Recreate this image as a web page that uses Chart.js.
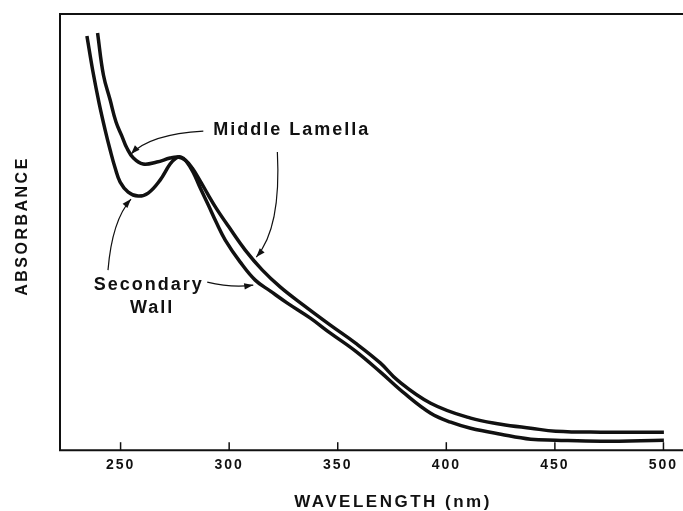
<!DOCTYPE html>
<html>
<head>
<meta charset="utf-8">
<script src="https://cdn.jsdelivr.net/npm/chart.js@4.4.1/dist/chart.umd.min.js"></script>
<style>
  html, body { margin: 0; padding: 0; background: #fff; }
  #wrap { width: 683px; height: 511px; }
</style>
</head>
<body>
<div id="wrap"><canvas id="myChart" width="683" height="511"></canvas></div>
<script>
// wavelength tick labels (nm)
var tickValues = [250, 300, 350, 400, 450, 500];

// Secondary Wall curve (absorbance in arbitrary units)
var secondaryWavelength = [234.5, 237.3, 240.1, 242.9, 245.2, 247.5, 249.8, 253.5, 258.1, 262.7,
  268.2, 272.8, 275.6, 277.9, 280.2, 283.4, 286.7, 290.4, 294.0, 298.2,
  305.1, 312.0, 319.0, 326.8, 337.4, 346.6, 358.2, 369.7, 381.2, 392.8,
  402.0, 411.2, 425.1, 438.9, 450.4, 471.2, 500.2];
var secondaryAbsorbance = [4.14, 3.78, 3.47, 3.20, 3.00, 2.82, 2.68, 2.58, 2.54, 2.57,
  2.70, 2.86, 2.92, 2.93, 2.89, 2.78, 2.62, 2.45, 2.28, 2.10,
  1.88, 1.70, 1.59, 1.47, 1.32, 1.17, 0.99, 0.78, 0.56, 0.37,
  0.28, 0.22, 0.16, 0.11, 0.10, 0.09, 0.10];

// Middle Lamella curve
var lamellaWavelength = [239.4, 242.1, 245.2, 247.9, 250.6, 252.9, 255.9, 260.4, 266.7, 272.8,
  276.5, 279.8, 283.0, 286.7, 290.4, 294.0, 299.6, 307.4, 315.3, 323.6,
  334.2, 346.6, 358.2, 369.7, 377.5, 392.8, 411.2, 425.1, 438.9, 450.4,
  471.2, 500.2];
var lamellaAbsorbance = [4.17, 3.75, 3.50, 3.28, 3.14, 3.02, 2.92, 2.86, 2.88, 2.92,
  2.93, 2.90, 2.82, 2.69, 2.55, 2.42, 2.24, 2.00, 1.80, 1.63,
  1.45, 1.25, 1.07, 0.87, 0.70, 0.47, 0.32, 0.26, 0.22, 0.19,
  0.18, 0.18];

var FONT = '"Liberation Sans", Arial, Helvetica, sans-serif';
var INK = '#111';

function toPoints(xs, ys) {
  return xs.map(function (x, i) { return { x: x, y: ys[i] }; });
}

function arrow(ctx, p0, c, p1) {
  ctx.beginPath();
  ctx.moveTo(p0[0], p0[1]);
  ctx.quadraticCurveTo(c[0], c[1], p1[0], p1[1]);
  ctx.stroke();
  var a = Math.atan2(p1[1] - c[1], p1[0] - c[0]);
  var len = 9, w = 3.2;
  ctx.beginPath();
  ctx.moveTo(p1[0], p1[1]);
  ctx.lineTo(p1[0] - len * Math.cos(a) + w * Math.sin(a), p1[1] - len * Math.sin(a) - w * Math.cos(a));
  ctx.lineTo(p1[0] - len * Math.cos(a) - w * Math.sin(a), p1[1] - len * Math.sin(a) + w * Math.cos(a));
  ctx.closePath();
  ctx.fill();
}

var decor = {
  id: 'decor',
  beforeDraw: function (chart) {
    chart.ctx.letterSpacing = '2px';
  },
  afterDraw: function (chart) {
    var ctx = chart.ctx, a = chart.chartArea;
    var xs = chart.scales.x, ys = chart.scales.y;
    function P(l, v) { return [xs.getPixelForValue(l), ys.getPixelForValue(v)]; }

    ctx.save();
    ctx.strokeStyle = INK;
    ctx.fillStyle = INK;
    // frame
    ctx.lineWidth = 2;
    ctx.beginPath();
    ctx.moveTo(a.right, a.top);
    ctx.lineTo(a.left, a.top);
    ctx.lineTo(a.left, a.bottom);
    ctx.lineTo(a.right, a.bottom);
    ctx.stroke();
    // inward tick marks
    ctx.lineWidth = 1.5;
    tickValues.forEach(function (v) {
      var x = xs.getPixelForValue(v);
      ctx.beginPath();
      ctx.moveTo(x, a.bottom);
      ctx.lineTo(x, a.bottom - 8);
      ctx.stroke();
    });

    // labels
    ctx.font = 'bold 18px ' + FONT;
    ctx.letterSpacing = '2px';
    ctx.textBaseline = 'middle';
    ctx.textAlign = 'left';
    var t = P(292.7, 3.20);
    ctx.fillText('Middle Lamella', t[0], t[1]);
    ctx.textAlign = 'center';
    t = P(262.5, 1.65);
    ctx.fillText('Secondary', t[0] + 1, t[1]);
    t = P(264.1, 1.42);
    ctx.fillText('Wall', t[0] + 1, t[1]);

    // arrows
    ctx.lineWidth = 1.2;
    arrow(ctx, P(288.1, 3.19), P(263.6, 3.16), P(254.8, 2.96));
    arrow(ctx, P(322.2, 2.98), P(324.0, 2.22), P(312.5, 1.93));
    arrow(ctx, P(244.2, 1.80), P(246.1, 2.30), P(254.8, 2.51));
    arrow(ctx, P(289.9, 1.68), P(301.4, 1.62), P(311.1, 1.65));

    // axis titles
    ctx.font = 'bold 17px ' + FONT;
    ctx.letterSpacing = '2.5px';
    ctx.textAlign = 'center';
    ctx.fillText('WAVELENGTH (nm)', 393, 502);
    ctx.font = 'bold 16px ' + FONT;
    ctx.translate(23, 227);
    ctx.rotate(-Math.PI / 2);
    ctx.fillText('ABSORBANCE', 1, 0);
    ctx.restore();
  }
};

var ctx = document.getElementById('myChart').getContext('2d');
var myChart = new Chart(ctx, {
  type: 'line',
  data: {
    datasets: [{
      label: 'Secondary Wall',
      data: toPoints(secondaryWavelength, secondaryAbsorbance),
      borderColor: INK,
      borderWidth: 3.5,
      pointRadius: 0,
      fill: false,
      tension: 0.4
    },
    {
      label: 'Middle Lamella',
      data: toPoints(lamellaWavelength, lamellaAbsorbance),
      borderColor: INK,
      borderWidth: 3.5,
      pointRadius: 0,
      fill: false,
      tension: 0.4
    }]
  },
  options: {
    responsive: false,
    animation: false,
    layout: { padding: { left: 60, right: 0, top: 14, bottom: 30 } },
    plugins: {
      legend: { display: false },
      tooltip: { enabled: false }
    },
    scales: {
      x: {
        type: 'linear',
        min: 222.1,
        max: 509,
        grid: { display: false, drawTicks: false },
        border: { display: false },
        afterBuildTicks: function (scale) {
          scale.ticks = tickValues.map(function (v) { return { value: v }; });
        },
        ticks: {
          color: INK,
          padding: 7,
          maxRotation: 0,
          font: { family: FONT, size: 14, weight: 'bold' },
          callback: function (v) { return String(v); }
        }
      },
      y: {
        display: false,
        min: 0,
        max: 4.36
      }
    }
  },
  plugins: [decor]
});
</script>
</body>
</html>
